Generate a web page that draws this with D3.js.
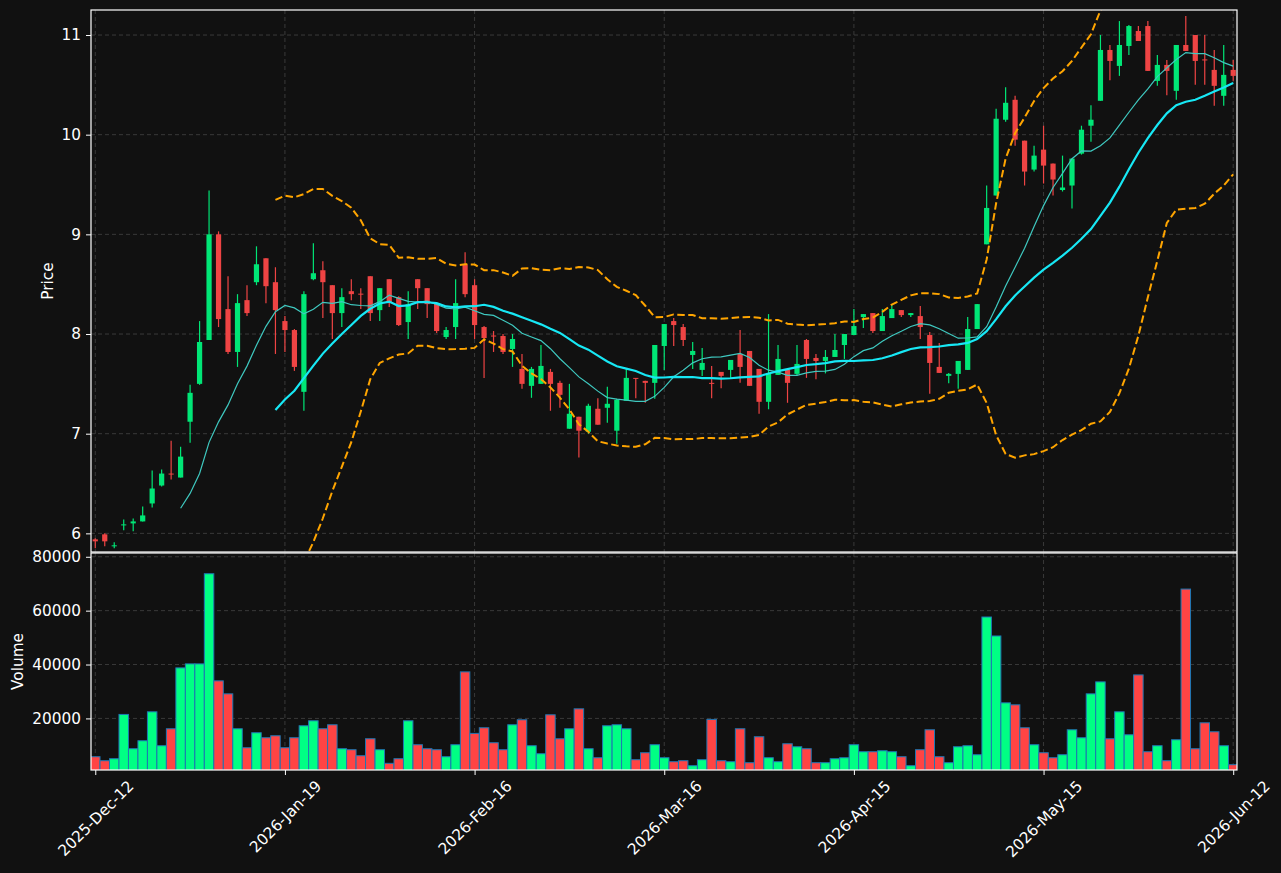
<!DOCTYPE html>
<html>
<head>
<meta charset="utf-8">
<script src="https://cdn.jsdelivr.net/npm/d3@7"></script>
<style>
  body { margin: 0; background: #111111; }
  svg { display: block; font-family: "DejaVu Sans", sans-serif; }
</style>
</head>
<body>
<div class="chart"></div>
<script>
// daily bars, one entry per trading session
const opens = [5.94,5.99,5.87,6.08,6.10,6.12,6.30,6.48,6.60,6.56,
  7.12,7.50,7.94,9.00,8.25,7.82,8.34,8.52,8.76,8.52,
  8.13,8.04,7.42,8.55,8.64,8.49,8.21,8.43,8.405,8.58,
  8.24,8.55,8.37,8.12,8.55,8.46,8.31,7.97,8.07,8.70,
  8.49,8.07,7.985,7.98,7.85,7.65,7.48,7.50,7.62,7.51,
  7.05,7.17,7.02,7.25,7.26,7.03,7.33,7.56,7.53,7.51,
  7.88,8.13,8.07,7.79,7.64,7.51,7.62,7.64,7.80,7.83,
  7.65,7.32,7.59,7.64,7.60,7.94,7.76,7.73,7.77,7.89,
  7.99,8.17,8.21,8.03,8.16,8.24,8.19,8.18,7.99,7.67,
  7.58,7.60,7.64,8.05,8.90,9.39,10.15,10.35,9.94,9.65,
  9.85,9.71,9.445,9.49,9.81,10.09,10.34,10.85,10.69,10.89,
  11.04,11.09,10.54,10.70,10.44,10.90,11.00,10.755,10.65,10.39,
  10.65];
const highs = [5.95,6.00,5.91,6.14,6.15,6.27,6.63,6.64,6.93,6.87,
  7.49,8.13,9.44,9.03,8.58,8.40,8.49,8.88,8.76,8.67,
  8.18,8.05,8.43,8.91,8.73,8.49,8.46,8.55,8.46,8.58,
  8.46,8.55,8.38,8.43,8.55,8.46,8.31,8.07,8.55,8.82,
  8.55,8.08,8.03,8.00,8.00,7.80,7.67,7.89,7.65,7.53,
  7.50,7.17,7.30,7.355,7.47,7.35,7.66,7.56,7.53,7.89,
  8.10,8.16,8.10,7.92,7.86,7.68,7.62,7.74,8.04,7.83,
  7.65,8.20,7.89,7.64,7.89,7.95,7.80,7.84,8.00,8.00,
  8.25,8.20,8.21,8.25,8.29,8.24,8.21,8.28,8.02,7.91,
  7.61,7.73,8.17,8.30,9.49,10.26,10.475,10.39,9.94,9.89,
  10.09,9.71,9.79,9.76,10.09,10.295,11.00,10.90,11.14,11.10,
  11.09,11.14,10.80,10.75,10.90,11.19,11.00,11.00,10.85,10.90,
  10.75];
const lows = [5.85,5.87,5.85,6.03,6.02,6.12,6.26,6.47,6.54,6.56,
  6.91,7.49,7.94,8.07,7.80,7.67,8.18,8.49,8.31,7.80,
  7.82,7.63,7.23,8.54,8.16,7.95,8.07,8.34,8.25,8.13,
  8.13,8.27,8.08,7.95,8.25,8.16,8.01,7.95,7.95,8.37,
  7.95,7.56,7.82,7.80,7.67,7.45,7.36,7.50,7.23,7.26,
  7.05,6.76,7.00,7.09,7.11,6.90,7.33,7.355,7.31,7.35,
  7.64,7.88,7.88,7.65,7.58,7.355,7.455,7.555,7.51,7.48,
  7.20,7.245,7.59,7.31,7.59,7.56,7.545,7.605,7.77,7.75,
  7.99,8.06,8.01,8.03,8.16,8.17,8.17,7.95,7.40,7.61,
  7.505,7.45,7.64,8.05,8.90,9.39,10.13,9.89,9.49,9.63,
  9.51,9.39,9.43,9.26,9.80,9.93,10.34,10.545,10.59,10.80,
  10.94,10.64,10.49,10.395,10.35,10.84,10.50,10.50,10.29,10.29,
  10.54];
const closes = [5.92,5.92,5.88,6.09,6.12,6.18,6.45,6.60,6.59,6.77,
  7.41,7.92,9.00,8.15,7.82,8.31,8.21,8.70,8.48,8.24,
  8.04,7.67,8.40,8.61,8.52,8.21,8.37,8.40,8.40,8.21,
  8.46,8.31,8.09,8.30,8.46,8.30,8.03,8.04,8.31,8.40,
  8.09,7.96,7.98,7.82,7.95,7.50,7.65,7.68,7.50,7.39,
  7.20,7.03,7.28,7.09,7.30,7.34,7.56,7.55,7.51,7.89,
  8.10,8.09,7.94,7.83,7.71,7.50,7.58,7.74,7.67,7.48,
  7.32,7.60,7.75,7.51,7.70,7.75,7.73,7.77,7.84,8.00,
  8.08,8.20,8.03,8.18,8.25,8.19,8.21,8.07,7.71,7.61,
  7.60,7.73,8.05,8.30,9.265,10.16,10.32,9.95,9.63,9.79,
  9.69,9.55,9.47,9.76,10.05,10.15,10.85,10.74,10.90,11.09,
  10.94,10.64,10.70,10.64,10.90,10.84,10.74,10.745,10.49,10.60,
  10.59];
const volumes = [5780,4300,5040,21480,8750,11710,22450,9860,16160,38760,
  40240,40240,73700,33940,29120,16160,9120,14680,12830,13560,
  9120,12830,17270,19120,16160,17640,8750,8380,6150,12450,
  8380,3330,5040,19120,10230,8750,8380,5780,10230,37270,
  14440,16530,10970,8380,17640,19490,9860,6890,21340,12450,
  16160,23560,8750,5410,17270,17640,16160,4670,7260,10230,
  5410,3930,4300,2450,4670,19630,4300,3930,16160,3560,
  13190,5410,3930,10590,9480,8750,3560,3560,5040,5410,
  10230,7630,7630,8000,7630,5780,2450,8380,15780,5780,
  3560,9480,9860,6520,57640,50600,25780,25040,16530,10230,
  7260,5410,6520,15780,12830,29120,33560,12450,22450,13930,
  36150,7630,9860,4300,12080,68010,8750,18370,15040,9860,
  2820];

const tickIndex = [0, 20, 40, 60, 80, 100, 120];
const tickLabels = ['2025-Dec-12', '2026-Jan-19', '2026-Feb-16', '2026-Mar-16',
  '2026-Apr-15', '2026-May-15', '2026-Jun-12'];
const priceTicks = [6, 7, 8, 9, 10, 11];
const volumeTicks = [20000, 40000, 60000, 80000];

const upColor = '#00e676', downColor = '#ef4444';
const volUp = '#00ff84', volDown = '#ff4444';
const fontSize = '15.3px';
const left = 91, right = 1237;
const priceTop = 10, priceBottom = 552, volTop = 553, volBottom = 770;

// rolling helpers for the overlays
function rolling(arr, n, fn) {
  return arr.map((d, i) => i < n - 1 ? null : fn(arr.slice(i - n + 1, i + 1)));
}
const ma10 = rolling(closes, 10, w => d3.mean(w));
const ma20 = rolling(closes, 20, w => d3.mean(w));
const sd20 = rolling(closes, 20, w => {
  const m = d3.mean(w);
  return Math.sqrt(d3.mean(w, v => (v - m) * (v - m)));
});
const bbUpper = ma20.map((m, i) => m == null ? null : m + 2 * sd20[i]);
const bbLower = ma20.map((m, i) => m == null ? null : m - 2 * sd20[i]);

const idx = d3.range(closes.length);

let svg = d3.select('.chart')
  .append('svg')
  .attr('width', 1281)
  .attr('height', 873);

svg.append('rect').attr('width', 1281).attr('height', 873).attr('fill', '#111111');

const x = d3.scaleLinear().domain([-0.45, 120.4]).range([left, right]);
const yPrice = d3.scaleLinear().domain([5.813, 11.251]).range([priceBottom, priceTop]);
const yVol = d3.scaleLinear().domain([850, 81400]).range([volBottom, volTop]);
const step = x(1) - x(0);

const defs = svg.append('defs');
defs.append('clipPath').attr('id', 'clipPrice').append('rect')
  .attr('x', left).attr('y', priceTop).attr('width', right - left).attr('height', priceBottom - priceTop);
defs.append('clipPath').attr('id', 'clipVol').append('rect')
  .attr('x', left).attr('y', volTop).attr('width', right - left).attr('height', volBottom - volTop);

// grid
function grid(g, yScale, yTicks, top, bottom) {
  g.selectAll('line.gx').data(tickIndex).enter().append('line')
    .attr('x1', d => x(d)).attr('x2', d => x(d))
    .attr('y1', top).attr('y2', bottom);
  g.selectAll('line.gy').data(yTicks).enter().append('line')
    .attr('x1', left).attr('x2', right)
    .attr('y1', d => yScale(d)).attr('y2', d => yScale(d));
  g.selectAll('line')
    .attr('stroke', '#444444')
    .attr('stroke-width', 0.8)
    .attr('stroke-dasharray', '4,3');
}
grid(svg.append('g'), yPrice, priceTicks, priceTop, priceBottom);
grid(svg.append('g'), yVol, volumeTicks, volTop, volBottom);

// candles
let candles = svg.append('g').attr('clip-path', 'url(#clipPrice)');
const isUp = i => closes[i] >= opens[i];
const colorOf = i => isUp(i) ? upColor : downColor;
const bodyW = step * 0.55;

candles.selectAll('line.wick')
  .data(idx)
  .enter()
  .append('line')
  .attr('class', 'wick')
  .attr('x1', i => x(i)).attr('x2', i => x(i))
  .attr('y1', i => yPrice(highs[i]))
  .attr('y2', i => yPrice(lows[i]))
  .attr('stroke', colorOf)
  .attr('stroke-width', 1.2);

candles.selectAll('rect')
  .data(idx)
  .enter()
  .append('rect')
  .attr('x', i => x(i) - bodyW / 2)
  .attr('width', bodyW)
  .attr('y', i => yPrice(Math.max(opens[i], closes[i])))
  .attr('height', i => Math.max(1, Math.abs(yPrice(opens[i]) - yPrice(closes[i]))))
  .attr('fill', colorOf);

// overlays
const line = d3.line()
  .defined(d => d.v != null)
  .x(d => x(d.i))
  .y(d => yPrice(d.v));
const pts = arr => arr.map((v, i) => ({ i: i, v: v }));

let over = svg.append('g').attr('clip-path', 'url(#clipPrice)');
over.append('path').datum(pts(ma10)).attr('d', line)
  .attr('fill', 'none').attr('stroke', '#3fc9c0').attr('stroke-width', 1.2);
over.append('path').datum(pts(ma20)).attr('d', line)
  .attr('fill', 'none').attr('stroke', '#17e8f5').attr('stroke-width', 2.2);
[bbUpper, bbLower].forEach(b => {
  over.append('path').datum(pts(b)).attr('d', line)
    .attr('fill', 'none').attr('stroke', '#ffa500')
    .attr('stroke-width', 2).attr('stroke-dasharray', '7.5,3.5');
});

// volume bars
svg.append('g').attr('clip-path', 'url(#clipVol)')
  .selectAll('rect')
  .data(idx)
  .enter()
  .append('rect')
  .attr('x', i => x(i) - step / 2)
  .attr('width', step)
  .attr('y', i => yVol(volumes[i]))
  .attr('height', i => yVol(0) - yVol(volumes[i]))
  .attr('fill', i => isUp(i) ? volUp : volDown)
  .attr('stroke', '#1f77b4')
  .attr('stroke-width', 1);

// spines
[[priceTop, priceBottom], [volTop, volBottom]].forEach(p => {
  svg.append('rect')
    .attr('x', left).attr('y', p[0])
    .attr('width', right - left).attr('height', p[1] - p[0])
    .attr('fill', 'none').attr('stroke', '#ffffff').attr('stroke-width', 1.2);
});

function styleAxis(g) {
  g.select('.domain').remove();
  g.selectAll('.tick line').attr('stroke', '#ffffff');
  g.selectAll('.tick text')
    .attr('fill', '#ffffff')
    .style('font-size', fontSize)
    .style('font-family', '"DejaVu Sans", sans-serif');
}

svg.append('g')
  .attr('transform', `translate(${left},0)`)
  .call(d3.axisLeft(yPrice).tickValues(priceTicks).tickSize(5).tickPadding(5).tickFormat(d3.format('d')))
  .call(styleAxis);

svg.append('g')
  .attr('transform', `translate(${left},0)`)
  .call(d3.axisLeft(yVol).tickValues(volumeTicks).tickSize(5).tickPadding(5).tickFormat(d3.format('d')))
  .call(styleAxis);

let xAxis = svg.append('g')
  .attr('transform', `translate(0,${volBottom})`)
  .call(d3.axisBottom(x).tickValues(tickIndex).tickSize(5)
    .tickFormat((d, i) => tickLabels[i]))
  .call(styleAxis);

// rotate labels 45deg, bounding box centred under the tick
xAxis.selectAll('.tick text').each(function () {
  const t = d3.select(this);
  const w = this.getComputedTextLength();
  const h = 12;
  const cy = 9 + (w + h) * Math.SQRT1_2 / 2;
  t.attr('y', 0).attr('dy', '0.35em')
    .attr('text-anchor', 'middle')
    .attr('transform', `translate(0,${cy}) rotate(-45)`);
});

svg.append('text')
  .attr('transform', `translate(53,${(priceTop + priceBottom) / 2}) rotate(-90)`)
  .attr('text-anchor', 'middle')
  .attr('fill', '#ffffff')
  .style('font-size', fontSize)
  .text('Price');

svg.append('text')
  .attr('transform', `translate(23,${(volTop + volBottom) / 2}) rotate(-90)`)
  .attr('text-anchor', 'middle')
  .attr('fill', '#ffffff')
  .style('font-size', fontSize)
  .text('Volume');
</script>
</body>
</html>
